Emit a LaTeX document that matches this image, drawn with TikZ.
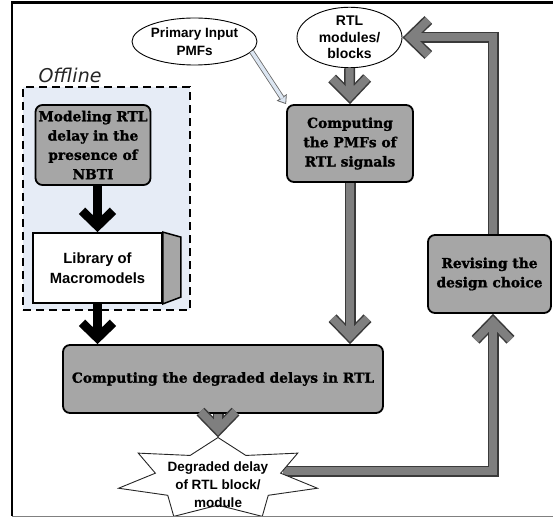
\documentclass[tikz,border=0pt]{standalone}
\usepackage{fontspec}
\setmainfont{DejaVu Serif}
\newfontfamily\boxfont[BoldFeatures={FakeBold=1.3}]{DejaVu Serif}
\newfontfamily\labsans{Liberation Sans}
\newfontfamily\offsans{DejaVu Sans}
\usetikzlibrary{arrows.meta,shapes.geometric}
\definecolor{boxgray}{HTML}{A6A6A6}
\definecolor{argray}{HTML}{7F7F7F}
\definecolor{arline}{HTML}{3A3A3A}
\definecolor{offbg}{HTML}{E6ECF6}
\definecolor{pibg}{HTML}{DCE6F2}
\begin{document}
\begin{tikzpicture}[x=1pt,y=-1pt,
  box/.style={draw=black, line width=1.8pt, rounded corners=7pt, fill=boxgray, align=center, inner sep=0pt,
    font=\boxfont\bfseries\fontsize{13.8}{19.3}\selectfont},
  lab/.style={align=center, inner sep=0pt, font=\labsans\bfseries\fontsize{13.5}{17.5}\selectfont},
  oval/.style={ellipse, draw=black, line width=0.9pt, fill=white, inner sep=0pt},
  region/.style={draw=black, line width=1.8pt, dash pattern=on 8pt off 5pt, fill=offbg, inner sep=0pt},
  garrow/.style={draw=arline, line width=11pt, line join=miter, -{Straight Barb[length=18pt,width=35pt]},
    postaction={draw=argray, line width=8pt, line join=miter, shorten >=2.2pt, -{Straight Barb[length=18pt,width=35pt]}}},
  barrow/.style={draw=black, line width=9pt, line join=miter, -{Straight Barb[length=15pt,width=31pt]}},
]
\useasboundingbox (0,0) rectangle (553,518);

% offline region
\node[region, minimum width=167pt, minimum height=223pt] (off) at (106.5,198.5) {};
\node[font=\offsans\itshape\fontsize{19}{22}\selectfont, text=black!85, inner sep=0pt] (offl) at (70,75) {Offline};

% nodes
\node[box, minimum width=115pt, minimum height=80pt] (mod) at (93,145) {Modeling RTL\\delay in the\\presence of\\NBTI};
\node[draw=black, line width=1.8pt, fill=white, minimum width=129pt, minimum height=70pt, inner sep=0pt, lab,
  font=\labsans\bfseries\fontsize{14.8}{19.5}\selectfont] (lib) at (97.5,268) {Library of\\Macromodels};
\draw[line width=1.5pt, fill=boxgray] (lib.north east) -- ++(18,5) -- ++(0,60) -- (lib.south east) -- cycle;
\node[box, minimum width=320pt, minimum height=68pt] (deg) at (223,379) {Computing the degraded delays in RTL};
\node[box, minimum width=126pt, minimum height=77pt] (pmf) at (350,143.5) {Computing\\the PMFs of\\RTL signals};
\node[box, minimum width=123pt, minimum height=78pt] (rev) at (489.5,274) {Revising the\\design choice};
\node[oval, minimum width=105pt, minimum height=51pt, lab, font=\labsans\bfseries\fontsize{14}{16.5}\selectfont] (rtl) at (349.5,37.5) {RTL\\modules/\\blocks};
\node[oval, minimum width=125pt, minimum height=47pt, lab] (pie) at (194.5,41.5) {Primary Input\\PMFs};

\coordinate (starR) at (283,471);
\coordinate (starT) at (218,437.5);

% feedback from star to revising
\draw[garrow] (starR) -| ([xshift=3.5pt]rev.south);
% star
\draw[line width=0.9pt, draw=black!85, fill=white] plot[samples at={0,...,13}, variable=\k]
  ({218+102*(1-0.37*mod(\k,2))*cos(90+\k*180/7)}, {479-41.5*(1-0.37*mod(\k,2))*sin(90+\k*180/7)}) -- cycle;
\node[lab, font=\labsans\bfseries\fontsize{13.5}{18}\selectfont] (dd) at (218,485) {Degraded delay\\of RTL block/\\module};

% arrows
\draw[garrow] (rtl.south) -- (pmf.north);
\draw[garrow] (pmf.south) -- (pmf.south |- deg.north);
\draw[garrow] (dd.center |- deg.south) -- (starT);
\draw[garrow] ([xshift=3.5pt]rev.north) |- (rtl.east);
\draw[barrow] (lib.north |- mod.south) -- (lib.north);
\draw[barrow] (lib.south) -- (lib.south |- deg.north);

% primary input arrow
\draw[line width=0.8pt, draw=black!60, -{Triangle[fill=pibg, length=8pt, width=12pt]}] (pie.-10) -- (pmf.north west);
\draw[draw=black!60, double=pibg, double distance=3.5pt, line width=0.8pt, shorten >=7pt] (pie.-10) -- (pmf.north west);

% frame
\draw[line width=2.5pt] (560,2.5) -- (12,2.5) -- (12,516);
\draw[black!50, line width=1pt] (12,516) -- (560,516);
\end{tikzpicture}
\end{document}
